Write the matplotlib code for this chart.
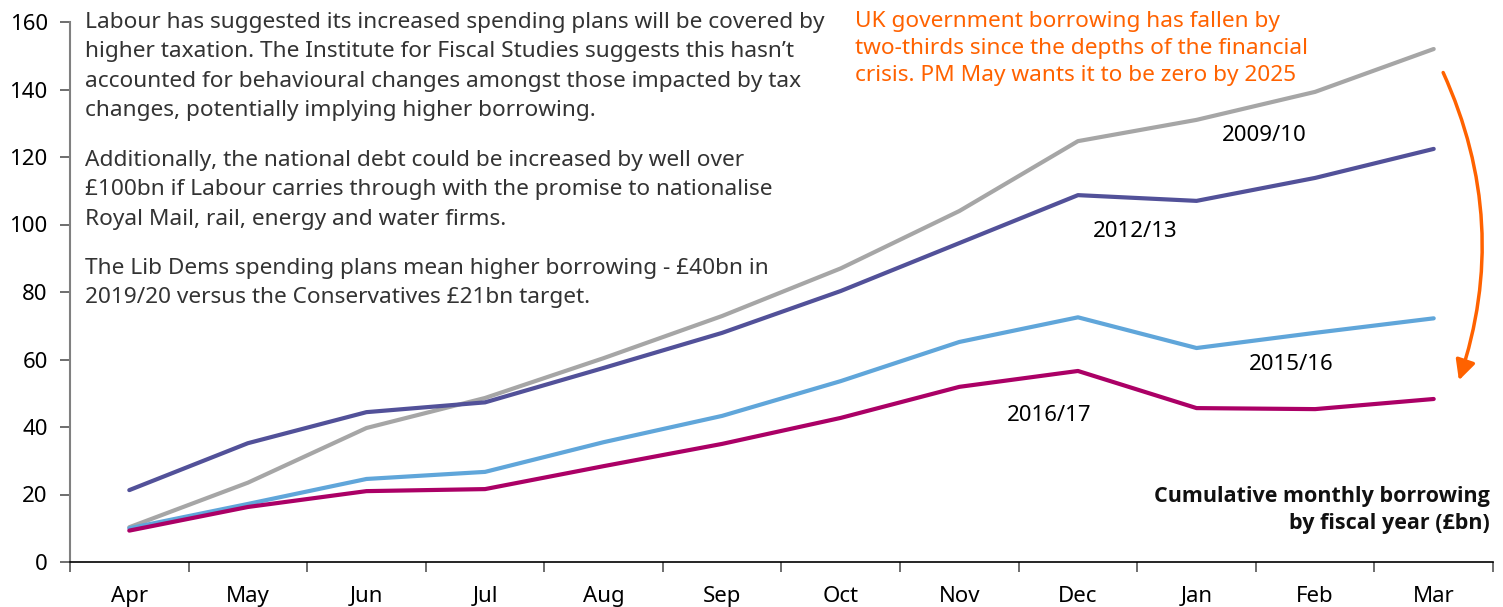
import matplotlib.pyplot as plt
from matplotlib.patches import FancyArrowPatch

plt.rcParams['font.family'] = ['Noto Sans', 'DejaVu Sans']

months = ['Apr', 'May', 'Jun', 'Jul', 'Aug', 'Sep', 'Oct', 'Nov', 'Dec', 'Jan', 'Feb', 'Mar']

# cumulative borrowing, £bn
fy_2009_10 = [10.3, 23.5, 39.7, 48.6, 60.4, 72.9, 87.0, 104.0, 124.7, 131.0, 139.3, 152.0]
fy_2012_13 = [21.3, 35.2, 44.4, 47.3, 57.5, 67.9, 80.3, 94.5, 108.7, 107.0, 113.8, 122.4]
fy_2015_16 = [10.0, 17.2, 24.6, 26.7, 35.5, 43.3, 53.6, 65.2, 72.5, 63.4, 67.9, 72.2]
fy_2016_17 = [9.3, 16.3, 21.0, 21.6, 28.4, 35.0, 42.7, 51.9, 56.6, 45.6, 45.3, 48.3]

W, H = 1503, 607
fig = plt.figure(figsize=(W / 100, H / 100), dpi=100)
ax = fig.add_axes([70 / W, 45 / H, 1423 / W, 540 / H])

x = range(len(months))
lw = 3
ax.plot(x, fy_2009_10, color='#a6a6a6', lw=lw, solid_capstyle='round')
ax.plot(x, fy_2012_13, color='#525199', lw=lw, solid_capstyle='round')
ax.plot(x, fy_2015_16, color='#60a6da', lw=lw, solid_capstyle='round')
ax.plot(x, fy_2016_17, color='#ab0066', lw=lw, solid_capstyle='round')

ax.set_xlim(-0.5, 11.5)
ax.set_ylim(0, 160)
ax.set_yticks(range(0, 161, 20))
ax.set_xticks([i - 0.5 for i in range(13)])
ax.set_xticklabels([])
ax.set_xticks(list(x), minor=True)
ax.set_xticklabels(months, minor=True)
ax.tick_params(axis='x', which='major', length=7, width=1.2, color='#555555', direction='out')
ax.tick_params(axis='x', which='minor', length=0, pad=17, labelsize=16)
ax.tick_params(axis='y', length=7, width=1.2, color='#555555', labelsize=16, pad=9)

for s in ['top', 'right']:
    ax.spines[s].set_visible(False)
ax.spines['left'].set_color('#808080')
ax.spines['left'].set_linewidth(1.5)
ax.spines['bottom'].set_color('#000000')
ax.spines['bottom'].set_linewidth(1.2)

# series labels
ax.text(9.57, 126.5, '2009/10', fontsize=16, ha='center', va='center')
ax.text(8.48, 98.0, '2012/13', fontsize=16, ha='center', va='center')
ax.text(9.8, 58.5, '2015/16', fontsize=16, ha='center', va='center')
ax.text(7.76, 43.5, '2016/17', fontsize=16, ha='center', va='center')

grey = '#333333'
fig.text(85 / W, 1 - 12 / H,
         "Labour has suggested its increased spending plans will be covered by\n"
         "higher taxation. The Institute for Fiscal Studies suggests this hasn\u2019t\n"
         "accounted for behavioural changes amongst those impacted by tax\n"
         "changes, potentially implying higher borrowing.",
         fontsize=16.3, color=grey, va='top', ha='left', linespacing=1.52)
fig.text(85 / W, 1 - 150 / H,
         "Additionally, the national debt could be increased by well over\n"
         "\u00a3100bn if Labour carries through with the promise to nationalise\n"
         "Royal Mail, rail, energy and water firms.",
         fontsize=16.3, color=grey, va='top', ha='left', linespacing=1.52)
fig.text(85 / W, 1 - 258 / H,
         "The Lib Dems spending plans mean higher borrowing - \u00a340bn in\n"
         "2019/20 versus the Conservatives \u00a321bn target.",
         fontsize=16.3, color=grey, va='top', ha='left', linespacing=1.52)

orange = '#ff6200'
fig.text(855 / W, 1 - 11 / H,
         "UK government borrowing has fallen by\n"
         "two-thirds since the depths of the financial\n"
         "crisis. PM May wants it to be zero by 2025",
         fontsize=16.3, color=orange, va='top', ha='left', linespacing=1.38)

fig.text(1490 / W, 1 - 486 / H,
         "Cumulative monthly borrowing\nby fiscal year (\u00a3bn)",
         fontsize=15.5, fontweight='bold', family=['Open Sans', 'Lato', 'DejaVu Sans'],
         color='#111111', va='top', ha='right', linespacing=1.4)

arrow = FancyArrowPatch((1442 / W, 1 - 70 / H), (1458 / W, 1 - 383 / H),
                        transform=fig.transFigure, connectionstyle='arc3,rad=-0.2',
                        arrowstyle='-|>,head_length=8,head_width=4', color=orange,
                        lw=2.5, mutation_scale=1.5)
fig.patches.append(arrow)

fig.savefig('out.png', dpi=100)
